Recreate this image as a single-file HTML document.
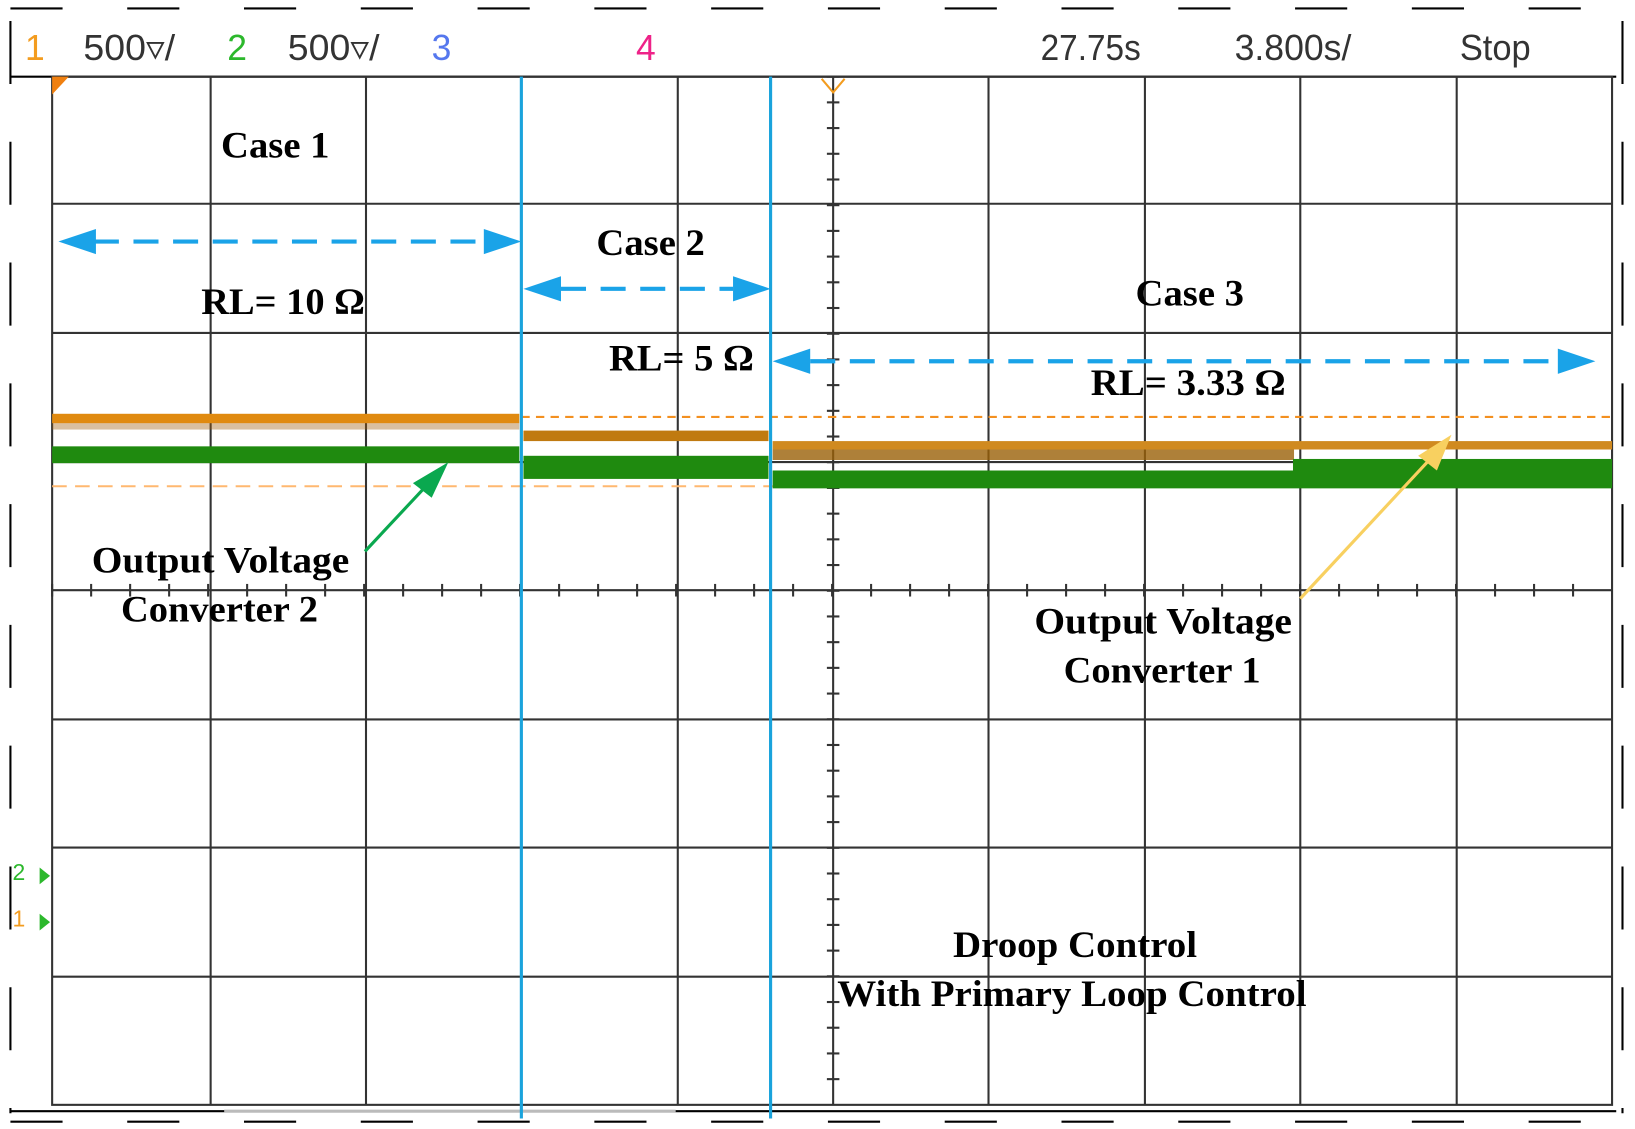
<!DOCTYPE html>
<html><head><meta charset="utf-8"><style>
html,body{margin:0;padding:0;background:#fff;width:1635px;height:1129px;overflow:hidden}
svg{display:block}
.t{font-family:"Liberation Serif",serif;font-weight:bold;font-size:35px;fill:#000}
.h{font-family:"Liberation Sans",sans-serif;font-size:34px}
</style></head><body>
<svg width="1635" height="1129" viewBox="0 0 1568 1075" preserveAspectRatio="none" xmlns="http://www.w3.org/2000/svg">
<line x1="10" y1="8" x2="1556" y2="8" stroke="#000" stroke-width="2" stroke-dasharray="50,62"/>
<line x1="10" y1="1068" x2="1556" y2="1068" stroke="#000" stroke-width="2" stroke-dasharray="50,62"/>
<line x1="10" y1="20" x2="10" y2="1060" stroke="#000" stroke-width="2" stroke-dasharray="60,55"/>
<line x1="1556" y1="20" x2="1556" y2="1060" stroke="#000" stroke-width="2" stroke-dasharray="60,55"/>
<line x1="10" y1="73" x2="1550" y2="73" stroke="#000" stroke-width="2"/>
<line x1="10" y1="1058" x2="1550" y2="1058" stroke="#000" stroke-width="2"/>
<line x1="215" y1="1058" x2="648" y2="1058" stroke="#bbb" stroke-width="3"/>
<text class="h" x="24" y="57" fill="#f39c1f">1</text>
<text class="h" x="80" y="57" fill="#333" textLength="88" lengthAdjust="spacingAndGlyphs">500▿/</text>
<text class="h" x="218" y="57" fill="#2cb82c">2</text>
<text class="h" x="276" y="57" fill="#333" textLength="88" lengthAdjust="spacingAndGlyphs">500▿/</text>
<text class="h" x="414" y="57" fill="#5577ee">3</text>
<text class="h" x="610" y="57" fill="#ee2288">4</text>
<text class="h" x="998" y="57" fill="#333" textLength="96" lengthAdjust="spacingAndGlyphs">27.75s</text>
<text class="h" x="1184" y="57" fill="#333" textLength="112" lengthAdjust="spacingAndGlyphs">3.800s/</text>
<text class="h" x="1400" y="57" fill="#333" textLength="68" lengthAdjust="spacingAndGlyphs">Stop</text>
<g stroke="#333" stroke-width="2">
<rect x="50" y="73" width="1496" height="979" fill="none"/>
<line x1="202" y1="73" x2="202" y2="1052"/><line x1="351" y1="73" x2="351" y2="1052"/>
<line x1="650" y1="73" x2="650" y2="1052"/><line x1="799" y1="73" x2="799" y2="1052"/>
<line x1="948" y1="73" x2="948" y2="1052"/><line x1="1098" y1="73" x2="1098" y2="1052"/>
<line x1="1247" y1="73" x2="1247" y2="1052"/><line x1="1397" y1="73" x2="1397" y2="1052"/>
<line x1="50" y1="194" x2="1546" y2="194"/><line x1="50" y1="317" x2="1546" y2="317"/>
<line x1="50" y1="440" x2="1546" y2="440"/><line x1="50" y1="562" x2="1546" y2="562"/>
<line x1="50" y1="685" x2="1546" y2="685"/><line x1="50" y1="807" x2="1546" y2="807"/>
<line x1="50" y1="930" x2="1546" y2="930"/>
</g>
<g stroke="#333" stroke-width="2" id="ticks"></g>
<path d="M788,75 L799,88 L810,75" fill="none" stroke="#f39c1f" stroke-width="2"/>
<path d="M50,73 L66,73 L50,90z" fill="#f08010"/>
<line x1="500" y1="397" x2="1546" y2="397" stroke="#f39020" stroke-width="2" stroke-dasharray="8,6"/>
<line x1="50" y1="463" x2="1546" y2="463" stroke="#ffb870" stroke-width="2" stroke-dasharray="14,8"/>
<rect x="50" y="394" width="448" height="9" fill="#e08a10"/>
<rect x="50" y="403" width="448" height="6" fill="#a06010" opacity="0.4"/>
<rect x="50" y="425" width="448" height="16" fill="#1f8a0f"/>
<rect x="502" y="410" width="235" height="10" fill="#c07a10"/>
<rect x="502" y="434" width="235" height="22" fill="#1f8a0f"/>
<rect x="741" y="420" width="805" height="8" fill="#d08a20"/>
<rect x="741" y="428" width="500" height="10" fill="#9a6008" opacity="0.8"/>
<rect x="741" y="448" width="805" height="17" fill="#1f8a0f"/>
<rect x="1240" y="437" width="306" height="25" fill="#1f8a0f"/>
<line x1="500" y1="73" x2="500" y2="1065" stroke="#1aa3dc" stroke-width="3"/>
<line x1="739" y1="73" x2="739" y2="1065" stroke="#1aa3dc" stroke-width="3"/>
<g stroke="#1aa3e8" stroke-width="4" stroke-dasharray="24,14">
<line x1="90" y1="230" x2="466" y2="230"/>
<line x1="538" y1="275" x2="703" y2="275"/>
<line x1="777" y1="344" x2="1495" y2="344"/>
</g>
<path d="M500,230 l-36,-12 v24z M56,230 l36,-12 v24z M739,275 l-36,-12 v24z M502,275 l36,-12 v24z M1530,344 l-36,-12 v24z M741,344 l36,-12 v24z" fill="#1aa3e8"/>
<line x1="350" y1="525" x2="415" y2="456" stroke="#0aa84f" stroke-width="3"/>
<path d="M430,440 L396,460 L414,474z" fill="#0aa84f"/>
<line x1="1247" y1="570" x2="1380" y2="428" stroke="#f8d060" stroke-width="3"/>
<path d="M1392,414 L1360,434 L1378,448z" fill="#f8d060"/>
<text x="12" y="838" font-family="Liberation Sans,sans-serif" font-size="22" fill="#2cb82c">2</text>
<path d="M38,826 l10,8 l-10,8z" fill="#2cb82c"/>
<text x="12" y="882" font-family="Liberation Sans,sans-serif" font-size="22" fill="#f39c1f">1</text>
<path d="M38,870 l10,8 l-10,8z" fill="#2cb82c"/>
<text class="t" x="212" y="150" textLength="104" lengthAdjust="spacingAndGlyphs">Case 1</text>
<text class="t" x="572" y="243" textLength="104" lengthAdjust="spacingAndGlyphs">Case 2</text>
<text class="t" x="1089" y="291" textLength="104" lengthAdjust="spacingAndGlyphs">Case 3</text>
<text class="t" x="193" y="299" textLength="157" lengthAdjust="spacingAndGlyphs">RL= 10 Ω</text>
<text class="t" x="584" y="353" textLength="139" lengthAdjust="spacingAndGlyphs">RL= 5 Ω</text>
<text class="t" x="1046" y="376" textLength="187" lengthAdjust="spacingAndGlyphs">RL= 3.33 Ω</text>
<text class="t" x="88" y="545" textLength="247" lengthAdjust="spacingAndGlyphs">Output Voltage</text>
<text class="t" x="116" y="592" textLength="189" lengthAdjust="spacingAndGlyphs">Converter 2</text>
<text class="t" x="992" y="603" textLength="247" lengthAdjust="spacingAndGlyphs">Output Voltage</text>
<text class="t" x="1020" y="650" textLength="189" lengthAdjust="spacingAndGlyphs">Converter 1</text>
<text class="t" x="914" y="911" textLength="234" lengthAdjust="spacingAndGlyphs">Droop Control</text>
<text class="t" x="803" y="958" textLength="450" lengthAdjust="spacingAndGlyphs">With Primary Loop Control</text>
</svg>
<script>
var g=document.getElementById('ticks'),s='';
for(var i=0;i<40;i++){var x=50+i*1496/40;s+='<line x1="'+x+'" y1="556" x2="'+x+'" y2="568"/>';}
for(var j=0;j<40;j++){var y=73+j*979/40;s+='<line x1="793" y1="'+y+'" x2="805" y2="'+y+'"/>';}
g.innerHTML=s;
</script>
</body></html>
